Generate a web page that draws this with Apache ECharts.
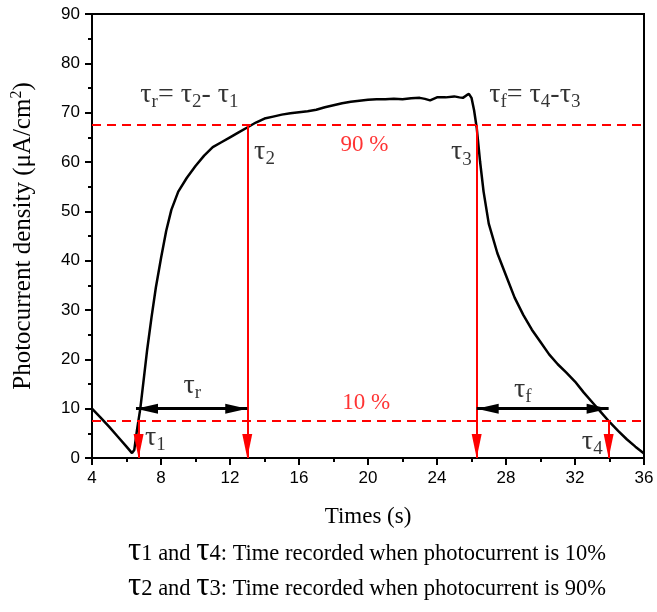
<!DOCTYPE html>
<html>
<head>
<meta charset="utf-8">
<script src="https://cdn.jsdelivr.net/npm/echarts@6/dist/echarts.min.js"></script>
<style>html,body{margin:0;padding:0;background:#fff}#c{width:657px;height:612px}</style>
</head>
<body>
<div id="c"></div>
<script>
// ---- data ----
const timeS = [4.0,4.5,5.0,5.5,6.0,6.32,6.45,6.6,6.8,7.0,7.2,7.45,7.7,8.0,8.3,8.6,9.0,9.5,10.0,10.5,11.0,11.5,12.0,12.5,13.0,13.5,14.0,14.5,15.0,15.5,16.0,16.5,17.0,17.5,18.0,18.5,19.0,19.5,20.0,20.5,21.0,21.5,22.0,22.5,23.0,23.3,23.6,24.0,24.5,25.0,25.3,25.5,25.7,25.85,26.0,26.15,26.3,26.5,26.7,27.0,27.5,28.0,28.5,29.0,29.5,30.0,30.5,31.0,31.5,32.0,32.5,33.0,33.5,34.0,34.5,35.0,35.5,36.0];
const current = [10.0,8.2,6.3,4.3,2.3,1.0,1.6,5.5,10.0,16.0,22.0,28.5,34.5,40.5,46.0,50.3,54.0,56.8,59.2,61.3,63.0,64.0,65.0,66.0,67.0,68.0,68.8,69.2,69.6,69.9,70.1,70.3,70.6,71.1,71.5,71.9,72.2,72.4,72.6,72.7,72.7,72.8,72.7,72.9,73.0,72.8,72.5,73.1,73.1,73.3,73.1,73.0,73.5,73.8,73.0,70.5,67.0,60.0,54.0,47.5,41.5,37.0,32.5,29.0,26.0,23.5,21.0,19.0,17.3,15.5,13.3,11.3,9.3,7.3,5.5,3.8,2.3,0.9];
const level90 = 67.5;
const level10 = 7.5;
const tau1 = 6.7, tau2 = 13.0, tau3 = 26.3, tau4 = 33.95;
const arrowY = 10;
const riseArrow = [6.55, 13.0];
const fallArrow = [26.3, 33.95];
const xTicks = {min: 4, max: 36, interval: 4};
const yTicks = {min: 0, max: 90, interval: 10};
// annotation labels: [x, y, rich text]
const annX = [9.65, 29.67, 19.8, 19.9, 14.0, 25.42, 7.67, 33.0, 9.82, 28.97];
const annY = [73.6, 73.6, 63.4, 11.1, 62.2, 62.0, 4.2, 3.4, 14.6, 13.8];
const annText = [
  '{t|τ}{s|r}{t|= τ}{s|2}{t|- τ}{s|1}',
  '{t|τ}{s|f}{t|= τ}{s|4}{t|-τ}{s|3}',
  '{r|90 %}',
  '{r|10 %}',
  '{t|τ}{s|2}',
  '{t|τ}{s|3}',
  '{t|τ}{s|1}',
  '{t|τ}{s|4}',
  '{t|τ}{s|r}',
  '{t|τ}{s|f}'
];
const xName = 'Times (s)';
const noteLines = [
  ['1', '4', ': Time recorded when photocurrent is 10%'],
  ['2', '3', ': Time recorded when photocurrent is 90%']
];

const serif = '"Liberation Serif","Times New Roman",serif';
const sans = '"Liberation Sans",Arial,sans-serif';
const RED = '#ff0000';

const chart = echarts.init(document.getElementById('c'), null, {renderer: 'canvas'});

const curve = timeS.map((t, i) => [t, current[i]]);
const annData = annX.map((x, i) => ({value: [x, annY[i]], label: {formatter: annText[i]}}));

function vArrow(x, yTop) {
  return [
    {coord: [x, yTop], symbol: 'none'},
    {coord: [x, 0], symbol: 'triangle', symbolSize: [10, 24], symbolOffset: [0, 12]}
  ];
}
function hArrow(a, b, y) {
  return [
    {coord: [a, y], symbol: 'triangle', symbolSize: [10, 22], symbolOffset: [0, 11]},
    {coord: [b, y], symbol: 'triangle', symbolSize: [10, 22], symbolOffset: [0, 11]}
  ];
}

const option = {
  animation: false,
  backgroundColor: '#fff',
  grid: {left: 92, right: 13, top: 14, bottom: 154, show: true, borderColor: '#000', borderWidth: 2, backgroundColor: 'transparent'},
  xAxis: {
    type: 'value', min: xTicks.min, max: xTicks.max, interval: xTicks.interval,
    name: xName, nameLocation: 'middle', nameGap: 47,
    nameTextStyle: {fontFamily: serif, fontSize: 23, color: '#000'},
    axisLine: {show: true, lineStyle: {color: '#000', width: 2}},
    axisTick: {show: true, length: 7, lineStyle: {color: '#000', width: 2}},
    minorTick: {show: true, splitNumber: 2, length: 4, lineStyle: {color: '#000', width: 2}},
    axisLabel: {fontFamily: sans, fontSize: 17, color: '#000', margin: 12},
    splitLine: {show: false}
  },
  yAxis: {
    type: 'value', min: yTicks.min, max: yTicks.max, interval: yTicks.interval,
    name: '{a|Photocurrent density (μA/cm}{p|2}{a|)}', nameLocation: 'middle', nameGap: 55,
    nameTextStyle: {rich: {a: {fontFamily: serif, fontSize: 25, color: '#000'}, p: {fontFamily: serif, fontSize: 16, color: '#000', padding: [0, 0, 12, 0]}}},
    axisLine: {show: true, lineStyle: {color: '#000', width: 2}},
    axisTick: {show: true, length: 7, lineStyle: {color: '#000', width: 2}},
    minorTick: {show: true, splitNumber: 2, length: 4, lineStyle: {color: '#000', width: 2}},
    axisLabel: {fontFamily: sans, fontSize: 17, margin: 12, color: function (v) { return v === 10 ? '#7a4a12' : '#000'; }},
    splitLine: {show: false}
  },
  series: [
    {
      type: 'line', data: curve, showSymbol: false, symbol: 'none',
      lineStyle: {color: '#000', width: 2.5}, z: 3
    },
    {
      type: 'line', data: [], silent: true, z: 4,
      markLine: {
        silent: true, animation: false, label: {show: false},
        symbol: ['none', 'none'],
        lineStyle: {color: RED, width: 2, type: [9, 6]},
        data: [
          [{coord: [xTicks.min, level90]}, {coord: [xTicks.max, level90]}],
          [{coord: [xTicks.min, level10]}, {coord: [xTicks.max, level10]}]
        ]
      }
    },
    {
      type: 'line', data: [], silent: true, z: 5,
      markLine: {
        silent: true, animation: false, label: {show: false},
        lineStyle: {color: RED, width: 2, type: 'solid'},
        itemStyle: {color: RED},
        data: [vArrow(tau1, level10), vArrow(tau2, level90), vArrow(tau3, level90), vArrow(tau4, level10)]
      }
    },
    {
      type: 'line', data: [], silent: true, z: 6,
      markLine: {
        silent: true, animation: false, label: {show: false},
        lineStyle: {color: '#000', width: 3, type: 'solid'},
        itemStyle: {color: '#000'},
        data: [hArrow(riseArrow[0], riseArrow[1], arrowY), hArrow(fallArrow[0], fallArrow[1], arrowY)]
      }
    },
    {
      type: 'scatter', data: annData, symbolSize: 0, silent: true, z: 10,
      label: {
        show: true, position: 'inside', color: '#000',
        rich: {
          t: {fontFamily: serif, fontSize: 28, color: '#000'},
          s: {fontFamily: serif, fontSize: 19, color: '#000', padding: [15, 0, 0, 0]},
          r: {fontFamily: serif, fontSize: 23, color: RED}
        }
      }
    }
  ],
  graphic: noteLines.map((ln, i) => ({
    type: 'text', left: 128, top: 535 + i * 35, silent: true,
    style: {
      text: '{t|τ}{n|' + ln[0] + ' and }{t|τ}{n|' + ln[1] + ln[2] + '}',
      rich: {
        t: {fontFamily: serif, fontSize: 33, fill: '#000', padding: [0, 0, 5, 0]},
        n: {fontFamily: serif, fontSize: 22.5, fill: '#000'}
      }
    }
  }))
};
chart.setOption(option);
</script>
</body>
</html>
